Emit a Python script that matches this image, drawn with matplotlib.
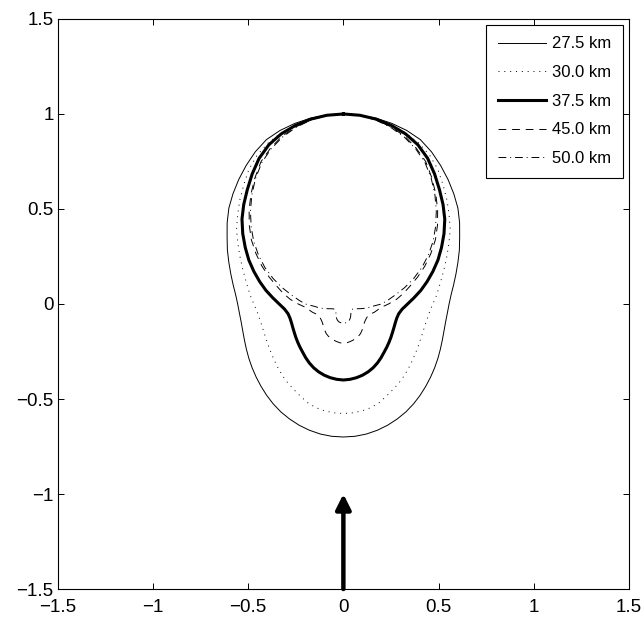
import numpy as np
import matplotlib
matplotlib.use("Agg")
import matplotlib.pyplot as plt

plt.rcParams['font.family'] = ['Liberation Sans', 'DejaVu Sans']

# polar angle measured from the +y axis, degrees (right half, mirrored to the left)
phi_deg = [0, 5, 10, 15, 20, 25, 30, 35, 40, 45, 50, 55, 60, 65, 70, 75, 80, 85, 90,
           95, 100, 105, 110, 115, 120, 125, 130, 135, 140, 145, 150, 155, 160, 165,
           170, 175, 180]

r_275 = [1.0, 0.998, 0.993, 0.984, 0.972, 0.955, 0.925, 0.89, 0.855, 0.82, 0.785,
         0.745, 0.705, 0.672, 0.64, 0.612, 0.588, 0.568, 0.555, 0.548, 0.545, 0.547,
         0.553, 0.562, 0.573, 0.585, 0.598, 0.612, 0.627, 0.642, 0.656, 0.668, 0.679,
         0.688, 0.695, 0.699, 0.70]
r_300 = [1.0, 0.997, 0.99, 0.976, 0.958, 0.935, 0.905, 0.865, 0.815, 0.77, 0.725,
         0.685, 0.64, 0.60, 0.565, 0.535, 0.51, 0.49, 0.47, 0.455, 0.447, 0.443,
         0.443, 0.446, 0.452, 0.46, 0.47, 0.482, 0.495, 0.508, 0.52, 0.535, 0.552,
         0.564, 0.571, 0.575, 0.576]
r_375 = [1.0, 0.997, 0.988, 0.973, 0.953, 0.925, 0.885, 0.835, 0.785, 0.74, 0.695,
         0.645, 0.595, 0.548, 0.50, 0.455, 0.413, 0.372, 0.337, 0.31, 0.295, 0.29,
         0.29, 0.293, 0.298, 0.305, 0.313, 0.322, 0.332, 0.345, 0.358, 0.37, 0.38,
         0.388, 0.394, 0.398, 0.40]
r_450 = [1.0, 0.996, 0.985, 0.965, 0.94, 0.905, 0.865, 0.81, 0.755, 0.7, 0.645,
         0.59, 0.53, 0.472, 0.415, 0.362, 0.32, 0.28, 0.237, 0.2, 0.182, 0.168,
         0.153, 0.144, 0.142, 0.143, 0.146, 0.152, 0.16, 0.17, 0.18, 0.187, 0.192,
         0.197, 0.201, 0.205, 0.207]
r_500 = [1.0, 0.995, 0.983, 0.962, 0.935, 0.9, 0.858, 0.805, 0.748, 0.69, 0.632,
         0.575, 0.515, 0.455, 0.393, 0.333, 0.278, 0.235, 0.2, 0.15, 0.125, 0.095,
         0.073, 0.06, 0.055, 0.054, 0.054, 0.056, 0.061, 0.068, 0.076, 0.084, 0.091,
         0.096, 0.099, 0.10, 0.10]

labels = ['27.5 km', '30.0 km', '37.5 km', '45.0 km', '50.0 km']

# source direction arrow (data coords)
arrow_base = (0.0, -1.5)
arrow_tip = (0.0, -1.0)


def full_curve(phi, r):
    # mirror the right half onto the left half
    phi = np.radians(np.array(phi, dtype=float))
    r = np.array(r, dtype=float)
    phi_all = np.concatenate([phi, 2 * np.pi - phi[::-1][1:]])
    r_all = np.concatenate([r, r[::-1][1:]])
    return r_all * np.sin(phi_all), r_all * np.cos(phi_all)


fig = plt.figure(figsize=(6.44, 6.18), dpi=100)
ax = fig.add_axes([0.0896, 0.0469, 0.8872, 0.9224])

styles = [
    dict(color='black', lw=0.7, ls='-'),
    dict(color='black', lw=0.7, ls=(0, (1, 5))),
    dict(color='black', lw=2.2, ls='-'),
    dict(color='black', lw=0.7, ls=(0, (8, 6))),
    dict(color='black', lw=0.7, ls=(0, (8, 4, 1, 4))),
]

for r, lab, st in zip([r_275, r_300, r_375, r_450, r_500], labels, styles):
    x, y = full_curve(phi_deg, r)
    ax.plot(x, y, label=lab, solid_joinstyle='round', **st)

ax.annotate('', xy=arrow_tip, xytext=arrow_base,
            arrowprops=dict(arrowstyle='-|>,head_length=0.9,head_width=0.45',
                            color='black', lw=3.2, shrinkA=0, shrinkB=0))

ax.set_xlim(-1.5, 1.5)
ax.set_ylim(-1.5, 1.5)
ticks = [-1.5, -1, -0.5, 0, 0.5, 1, 1.5]
tick_labels = ['\u22121.5', '\u22121', '\u22120.5', '0', '0.5', '1', '1.5']
ax.set_xticks(ticks)
ax.set_xticklabels(tick_labels)
ax.set_yticks(ticks)
ax.set_yticklabels(tick_labels)
ax.tick_params(direction='in', top=True, right=True, length=4, width=0.7,
               labelsize=13.5)
ax.tick_params(axis='x', pad=7)
ax.tick_params(axis='y', pad=3)
for s in ax.spines.values():
    s.set_linewidth(0.8)

leg = ax.legend(loc='upper right', fontsize=12, handlelength=2.9,
                handletextpad=0.35, labelspacing=0.82, borderaxespad=0.35,
                fancybox=False, framealpha=1, edgecolor='black', borderpad=0.7)
leg.get_frame().set_linewidth(0.8)

fig.savefig('out.png', dpi=100)
